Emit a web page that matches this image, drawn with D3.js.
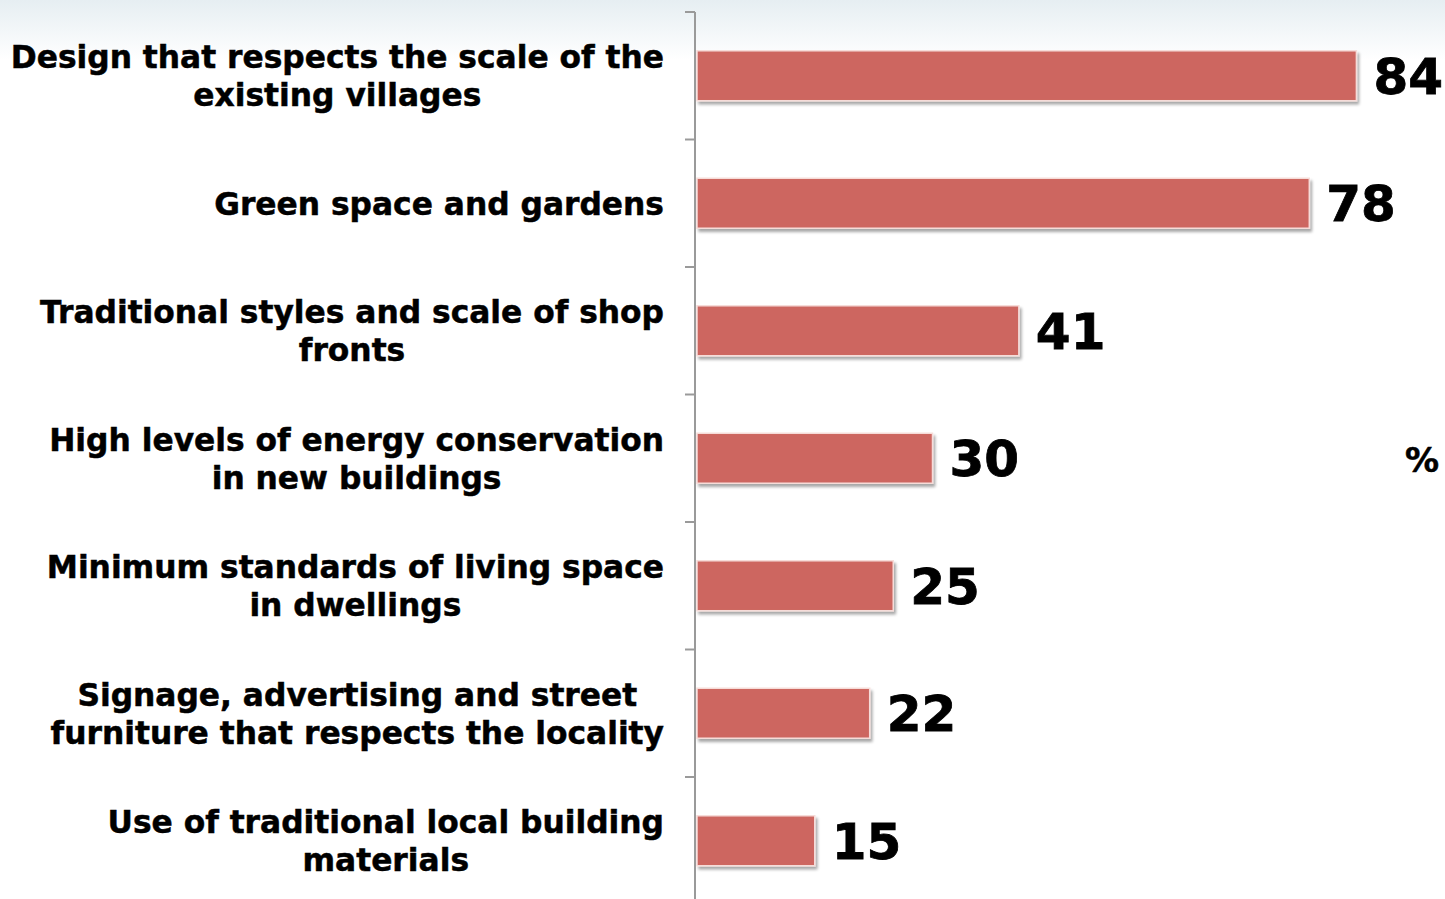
<!DOCTYPE html>
<html>
<head>
<meta charset="utf-8">
<script src="https://cdn.jsdelivr.net/npm/d3@7"></script>
<style>
  html, body { margin: 0; padding: 0; background: #fff; }
  svg { display: block; }
  text { font-family: "DejaVu Sans", Verdana, sans-serif; font-weight: bold; fill: #000; stroke: #000; stroke-width: 0.5px; }
</style>
</head>
<body>
<svg id="chart" width="1445" height="899"></svg>
<script>
// Survey responses: share of respondents (%) who rated each design aspect important
const categories = [
  "Design that respects the scale of the|existing villages",
  "Green space and gardens",
  "Traditional styles and scale of shop|fronts",
  "High levels of energy conservation|in new buildings",
  "Minimum standards of living space|in dwellings",
  "Signage, advertising and street|furniture that respects the locality",
  "Use of traditional local building|materials"
];
const values = [84, 78, 41, 30, 25, 22, 15];
const unitLabel = "%";

const W = 1445, H = 899;
const svg = d3.select("#chart");

// soft blue-grey band fading down from the top edge
const defs = svg.append("defs");
const bg = defs.append("linearGradient").attr("id", "topFade")
  .attr("x1", 0).attr("y1", 0).attr("x2", 0).attr("y2", 1);
bg.append("stop").attr("offset", "0").attr("stop-color", "#e6eef2");
bg.append("stop").attr("offset", "1").attr("stop-color", "#ffffff");
svg.append("rect").attr("x", 0).attr("y", 0).attr("width", W).attr("height", 60)
  .attr("fill", "url(#topFade)");

// drop shadow under each bar
const shadow = defs.append("filter").attr("id", "barShadow")
  .attr("x", "-5%").attr("y", "-20%").attr("width", "115%").attr("height", "160%");
shadow.append("feGaussianBlur").attr("in", "SourceAlpha").attr("stdDeviation", 1.6).attr("result", "b");
shadow.append("feOffset").attr("in", "b").attr("dx", 1.5).attr("dy", 2.5).attr("result", "o");
shadow.append("feComponentTransfer").attr("in", "o").attr("result", "s")
  .append("feFuncA").attr("type", "linear").attr("slope", 0.35);
const merge = shadow.append("feMerge");
merge.append("feMergeNode").attr("in", "s");
merge.append("feMergeNode").attr("in", "SourceGraphic");

const axisX = 695;
const y = d3.scaleBand()
  .domain(categories)
  .range([12, 12 + 7 * 127.5])
  .paddingInner(0.608)
  .paddingOuter(0.304);

const x = d3.scaleLinear().domain([0, 100]).range([697, 697 + 785]);

// bars
svg.append("g").selectAll("rect")
  .data(categories)
  .join("rect")
  .attr("x", x(0))
  .attr("y", d => y(d))
  .attr("width", (d, i) => x(values[i]) - x(0))
  .attr("height", y.bandwidth())
  .attr("fill", "#cd6660")
  .attr("stroke", "#f6dcd9")
  .attr("stroke-width", 1.5)
  .attr("filter", "url(#barShadow)");

// category axis: vertical rule with ticks on band boundaries
const step = y.step();
const y0 = y.range()[0];
const tickYs = d3.range(categories.length + 1).map(i => y0 + i * step);
const axis = svg.append("g");
axis.append("line")
  .attr("x1", axisX).attr("x2", axisX)
  .attr("y1", y0).attr("y2", H)
  .attr("stroke", "#9a9a9a").attr("stroke-width", 2);
axis.selectAll("line.tick")
  .data(tickYs)
  .join("line")
  .attr("class", "tick")
  .attr("x1", axisX - 10).attr("x2", axisX)
  .attr("y1", d => d).attr("y2", d => d)
  .attr("stroke", "#9a9a9a").attr("stroke-width", 2);

// category labels: lines centred on each other, block right-aligned to the axis
const labelRight = 664;
const labelSize = 31.3;
const lineGap = 38;
const labels = svg.append("g").attr("font-size", labelSize);
categories.forEach(c => {
  const lines = c.split("|");
  const cy = y(c) + y.bandwidth() / 2;
  const g = labels.append("g");
  const ts = lines.map((ln, j) => g.append("text")
    .attr("text-anchor", "middle")
    .attr("y", cy + (j - (lines.length - 1) / 2) * lineGap + labelSize * 0.36)
    .text(ln));
  const maxW = d3.max(ts, t => t.node().getComputedTextLength());
  ts.forEach(t => t.attr("x", labelRight - maxW / 2));
});

// value labels at bar ends
svg.append("g").selectAll("text")
  .data(categories)
  .join("text")
  .attr("x", (d, i) => x(values[i]) + 17)
  .attr("y", d => y(d) + y.bandwidth() / 2)
  .attr("dy", "0.36em")
  .attr("font-size", 50)
  .style("stroke-width", "0.8px")
  .text((d, i) => values[i]);

// unit marker
svg.append("text")
  .attr("x", 1405)
  .attr("y", 460)
  .attr("dy", "0.36em")
  .attr("font-size", 34)
  .text(unitLabel);
</script>
</body>
</html>
